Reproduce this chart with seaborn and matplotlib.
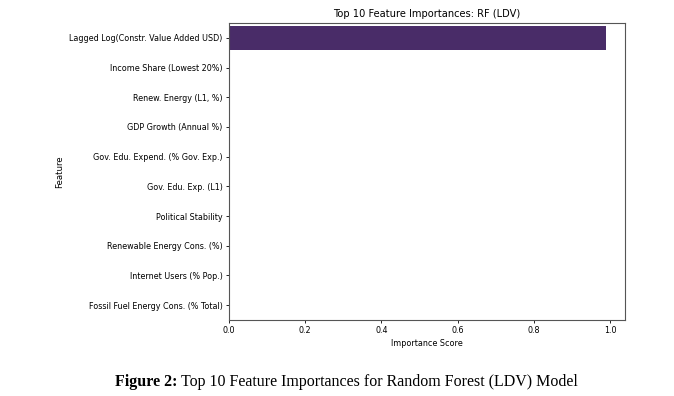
import matplotlib
matplotlib.use("Agg")
import matplotlib.pyplot as plt
import seaborn as sns
import pandas as pd

# feature names and importances
features = [
    'Lagged Log(Constr. Value Added USD)',
    'Income Share (Lowest 20%)',
    'Renew. Energy (L1, %)',
    'GDP Growth (Annual %)',
    'Gov. Edu. Expend. (% Gov. Exp.)',
    'Gov. Edu. Exp. (L1)',
    'Political Stability',
    'Renewable Energy Cons. (%)',
    'Internet Users (% Pop.)',
    'Fossil Fuel Energy Cons. (% Total)',
]
importances = [0.990, 0.0018, 0.0014, 0.0012, 0.0010, 0.0009, 0.0008, 0.0007, 0.0006, 0.0005]

df = pd.DataFrame({'Feature': features, 'Importance': importances})

fig = plt.figure(figsize=(6.74, 3.96), dpi=100)
ax = fig.add_axes([0.3398, 0.192, 0.5875, 0.750])

sns.barplot(data=df, x='Importance', y='Feature', hue='Feature',
            palette='viridis', legend=False, ax=ax)

ax.set_title('Top 10 Feature Importances: RF (LDV)', fontsize=7.1, pad=4)
ax.set_xlabel('Importance Score', fontsize=5.8, labelpad=3)
ax.set_ylabel('Feature', fontsize=6.2, labelpad=4)
ax.tick_params(axis='both', labelsize=5.8, length=2.5, width=0.6, pad=2)
for s in ax.spines.values():
    s.set_linewidth(0.8)
    s.set_color('#555555')

# caption below the chart: bold label then plain text
cap1 = fig.text(0.171, 0.0253, 'Figure 2:', fontsize=11.5, fontweight='bold',
                family='Liberation Serif', ha='left', va='baseline')
fig.canvas.draw()
bb = cap1.get_window_extent(fig.canvas.get_renderer())
x2 = (bb.x1 + 3) / fig.bbox.width
fig.text(x2, 0.0253, 'Top 10 Feature Importances for Random Forest (LDV) Model',
         fontsize=11.5, family='Liberation Serif', ha='left', va='baseline')

fig.savefig('out.png', dpi=100)
